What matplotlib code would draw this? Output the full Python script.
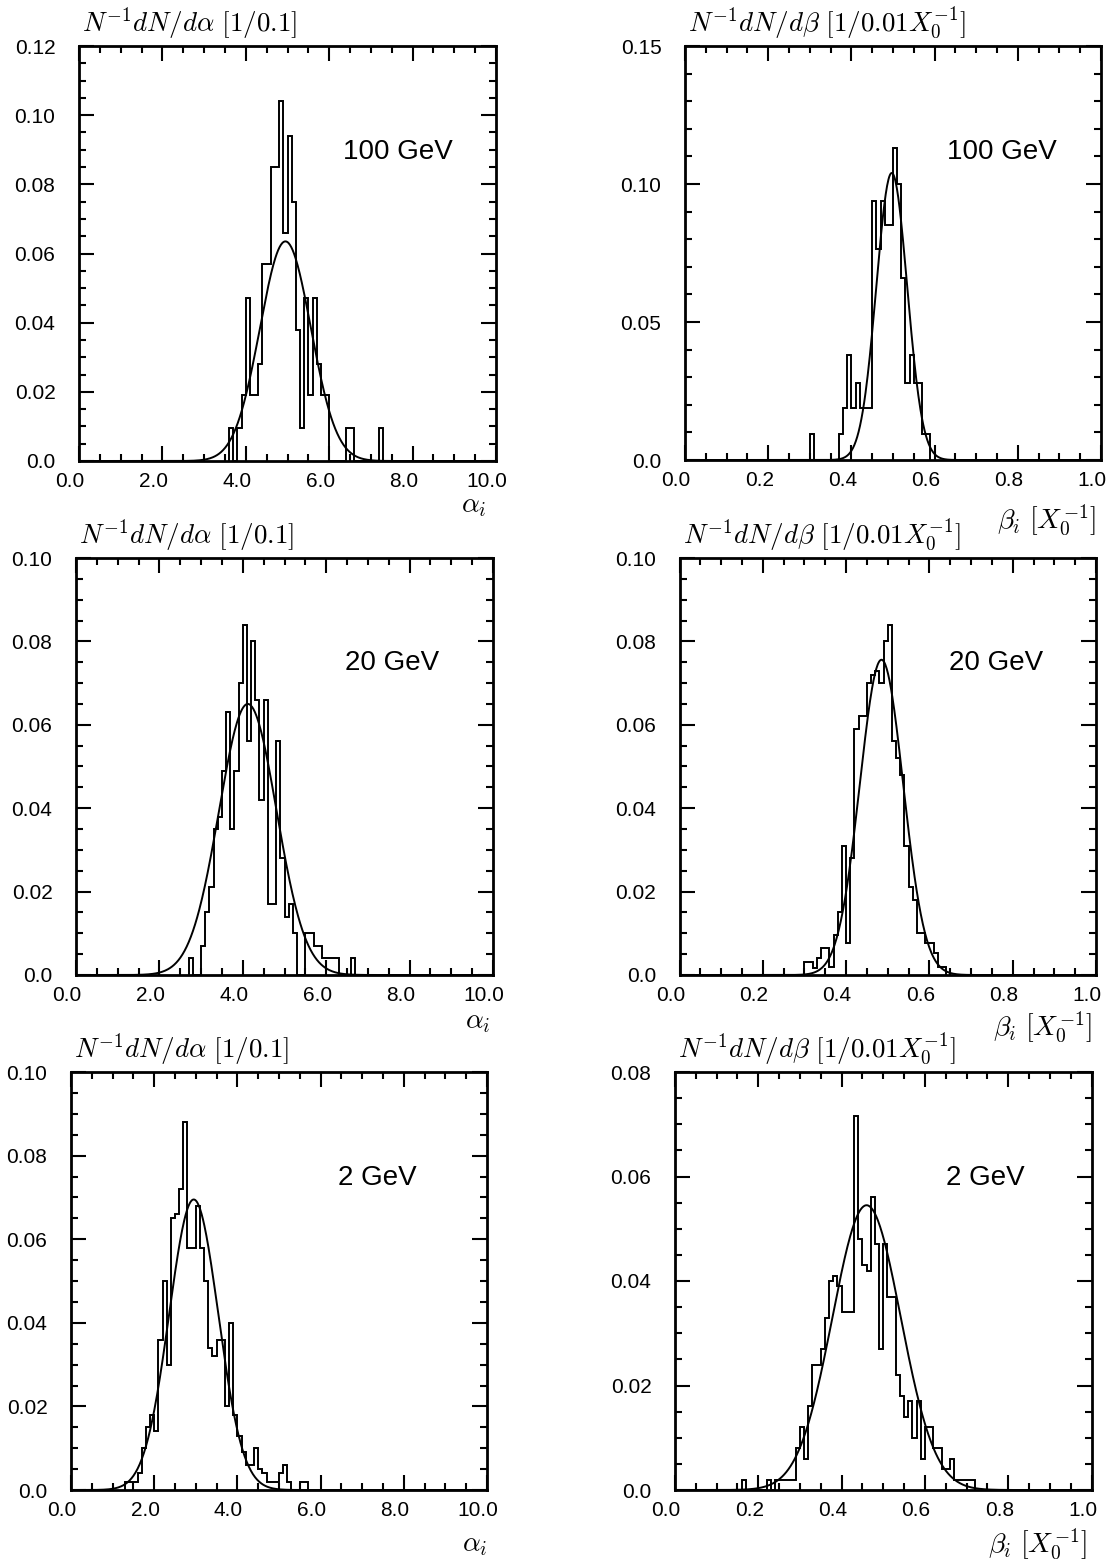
import numpy as np
import matplotlib
matplotlib.use("Agg")
import matplotlib.pyplot as plt
from matplotlib.ticker import MultipleLocator
from matplotlib.transforms import ScaledTranslation

plt.rcParams['mathtext.fontset'] = 'cm'

# ---- histogram data (bin heights) ----
# alpha_i, 100 GeV : bins of 0.1 starting at 3.6
alpha100_start = 3.6
alpha100 = [0.0094, 0.0, 0.0094, 0.019, 0.047, 0.019, 0.019, 0.028, 0.057, 0.057,
            0.085, 0.085, 0.104, 0.066, 0.094, 0.075, 0.038, 0.0094, 0.047, 0.019,
            0.047, 0.028, 0.019, 0.019, 0.0, 0.0, 0.0, 0.0, 0.0094, 0.0094,
            0.0, 0.0, 0.0, 0.0, 0.0, 0.0, 0.0094]

# beta_i, 100 GeV : bins of 0.01 starting at 0.30
beta100_start = 0.30
beta100 = [0.0094, 0.0, 0.0, 0.0, 0.0, 0.0, 0.0, 0.0094, 0.019, 0.038,
           0.019, 0.028, 0.019, 0.019, 0.019, 0.094, 0.0765, 0.094, 0.085, 0.085,
           0.113, 0.100, 0.066, 0.028, 0.038, 0.028, 0.028, 0.0094, 0.0094]

# alpha_i, 20 GeV : bins of 0.1 starting at 2.7
alpha20_start = 2.7
alpha20 = [0.004, 0.0, 0.0, 0.007, 0.015, 0.021, 0.035, 0.038, 0.049, 0.063,
           0.035, 0.049, 0.070, 0.084, 0.056, 0.080, 0.066, 0.042, 0.066, 0.017,
           0.017, 0.056, 0.028, 0.014, 0.017, 0.010, 0.0, 0.0, 0.010, 0.010,
           0.007, 0.007, 0.004, 0.004, 0.004, 0.004, 0.0, 0.0, 0.0, 0.004]

# beta_i, 20 GeV : bins of 0.01 starting at 0.30
beta20_start = 0.30
beta20 = [0.003, 0.003, 0.0016, 0.004, 0.0064, 0.0064, 0.002, 0.0096, 0.015, 0.031,
          0.0076, 0.028, 0.059, 0.062, 0.062, 0.070, 0.072, 0.073, 0.070, 0.080,
          0.084, 0.056, 0.052, 0.048, 0.031, 0.021, 0.018, 0.010, 0.010, 0.0076,
          0.0076, 0.0052, 0.002, 0.002]

# alpha_i, 2 GeV : bins of 0.1 starting at 1.3
alpha2_start = 1.3
alpha2 = [0.002, 0.002, 0.002, 0.004, 0.010, 0.015, 0.018, 0.014, 0.036, 0.050,
          0.030, 0.065, 0.066, 0.072, 0.088, 0.058, 0.058, 0.068, 0.058, 0.050,
          0.034, 0.032, 0.036, 0.036, 0.020, 0.040, 0.018, 0.013, 0.009, 0.006,
          0.006, 0.010, 0.005, 0.004, 0.002, 0.002, 0.002, 0.004, 0.006, 0.002,
          0.0, 0.0, 0.002, 0.002]

# beta_i, 2 GeV : bins of 0.01 starting at 0.16
beta2_start = 0.16
beta2 = [0.002, 0.0, 0.0, 0.0, 0.0, 0.0, 0.002, 0.0, 0.002, 0.002,
         0.002, 0.002, 0.002, 0.008, 0.012, 0.006, 0.016, 0.024, 0.024, 0.027,
         0.033, 0.040, 0.041, 0.039, 0.034, 0.034, 0.034, 0.0715, 0.048, 0.043,
         0.042, 0.056, 0.047, 0.027, 0.047, 0.037, 0.037, 0.022, 0.018, 0.014,
         0.017, 0.010, 0.017, 0.006, 0.012, 0.012, 0.008, 0.008, 0.004, 0.004,
         0.006, 0.002, 0.002, 0.002, 0.002, 0.002]

# gaussian fits: (amplitude, mean, sigma)
fit_alpha100 = (0.0635, 4.95, 0.61)
fit_beta100 = (0.104, 0.497, 0.037)
fit_alpha20 = (0.065, 4.12, 0.69)
fit_beta20 = (0.0756, 0.485, 0.052)
fit_alpha2 = (0.0695, 2.95, 0.59)
fit_beta2 = (0.0545, 0.460, 0.082)

energies = ["100 GeV", "20 GeV", "2 GeV"]

alpha_title = r'$N^{-1}dN/d\alpha\ [1/0.1]$'
beta_title = r'$N^{-1}dN/d\beta\ [1/0.01X_0^{-1}]$'
alpha_xlabel = r'$\alpha_i$'
beta_xlabel = r'$\beta_i\ [X_0^{-1}]$'

alpha_xticks = [0.0, 2.0, 4.0, 6.0, 8.0, 10.0]
beta_xticks = [0.0, 0.2, 0.4, 0.6, 0.8, 1.0]

W, H = 1111, 1567
fig = plt.figure(figsize=(W / 100, H / 100), dpi=100)


def box(left, top, right, bottom):
    return [left / W, 1 - bottom / H, (right - left) / W, (bottom - top) / H]


def fmt_y(v):
    return "0.0" if v == 0 else f"{v:.2f}"


def panel(rect, start, width, vals, fit, xmax, ymax, ymajor, yminor,
          xmajor, xminor, xticks, xfmt, title, xlabel, energy, epos, xlab_pos):
    ax = fig.add_axes(rect)
    edges = start + width * np.arange(len(vals) + 1)
    ax.stairs(vals, edges, color='black', lw=1.4, baseline=0)
    a, m, s = fit
    xs = np.linspace(0, xmax, 600)
    ax.plot(xs, a * np.exp(-0.5 * ((xs - m) / s) ** 2), color='black', lw=1.4)

    ax.set_xlim(0, xmax)
    ax.set_ylim(0, ymax)
    ax.xaxis.set_major_locator(MultipleLocator(xmajor))
    ax.xaxis.set_minor_locator(MultipleLocator(xminor))
    ax.yaxis.set_major_locator(MultipleLocator(ymajor))
    ax.yaxis.set_minor_locator(MultipleLocator(yminor))
    ax.set_xticks(xticks)
    ax.set_xticklabels([xfmt.format(v) for v in xticks])
    yt = np.arange(0, ymax + 1e-9, ymajor)
    ax.set_yticks(yt)
    ax.set_yticklabels([fmt_y(round(v, 3)) for v in yt])
    ax.tick_params(which='both', direction='in', top=True, right=True,
                   width=1.5, labelsize=15, labelfontfamily='Liberation Sans')
    ax.tick_params(which='major', length=10.5)
    ax.tick_params(which='minor', length=5)
    ax.tick_params(axis='x', pad=8)
    ax.tick_params(axis='y', pad=17)
    for sp in ax.spines.values():
        sp.set_linewidth(2.0)
    shift = ScaledTranslation(-0.09, 0, fig.dpi_scale_trans)
    for lbl in ax.get_xticklabels():
        lbl.set_transform(lbl.get_transform() + shift)

    ax.text(0.008, 1.01, title, transform=ax.transAxes, fontsize=19.5,
            ha='left', va='bottom')
    ax.text(xlab_pos[0], xlab_pos[1], xlabel, transform=ax.transAxes,
            fontsize=20, ha='right', va='center')
    ax.text(epos[0], epos[1], energy, transform=ax.transAxes, fontsize=20,
            family='Liberation Sans', ha='center', va='center')
    return ax


# top row: 100 GeV
panel(box(79, 46, 496, 461), alpha100_start, 0.1, alpha100, fit_alpha100,
      10.0, 0.12, 0.02, 0.005, 2.0, 0.5, alpha_xticks, "{:.1f}",
      alpha_title, alpha_xlabel, energies[0], (0.764, 0.745), (0.978, -0.107))
panel(box(685, 46, 1101, 460), beta100_start, 0.01, beta100, fit_beta100,
      1.0, 0.15, 0.05, 0.01, 0.2, 0.05, beta_xticks, "{:.1f}",
      beta_title, beta_xlabel, energies[0], (0.762, 0.745), (0.988, -0.145))

# middle row: 20 GeV
panel(box(76, 558, 493, 975), alpha20_start, 0.1, alpha20, fit_alpha20,
      10.0, 0.10, 0.02, 0.005, 2.0, 0.5, alpha_xticks, "{:.1f}",
      alpha_title, alpha_xlabel, energies[1], (0.758, 0.748), (0.995, -0.11))
panel(box(679.5, 558, 1096, 975), beta20_start, 0.01, beta20, fit_beta20,
      1.0, 0.10, 0.02, 0.005, 0.2, 0.05, beta_xticks, "{:.1f}",
      beta_title, beta_xlabel, energies[1], (0.76, 0.748), (0.99, -0.127))

# bottom row: 2 GeV
panel(box(71, 1072, 487, 1490), alpha2_start, 0.1, alpha2, fit_alpha2,
      10.0, 0.10, 0.02, 0.005, 2.0, 0.5, alpha_xticks, "{:.1f}",
      alpha_title, alpha_xlabel, energies[2], (0.736, 0.746), (1.0, -0.13))
panel(box(675, 1072, 1091.5, 1490), beta2_start, 0.01, beta2, fit_beta2,
      1.0, 0.08, 0.02, 0.005, 0.2, 0.05, beta_xticks, "{:.1f}",
      beta_title, beta_xlabel, energies[2], (0.744, 0.746), (0.99, -0.13))

fig.savefig("out.png", dpi=100, facecolor='white')
